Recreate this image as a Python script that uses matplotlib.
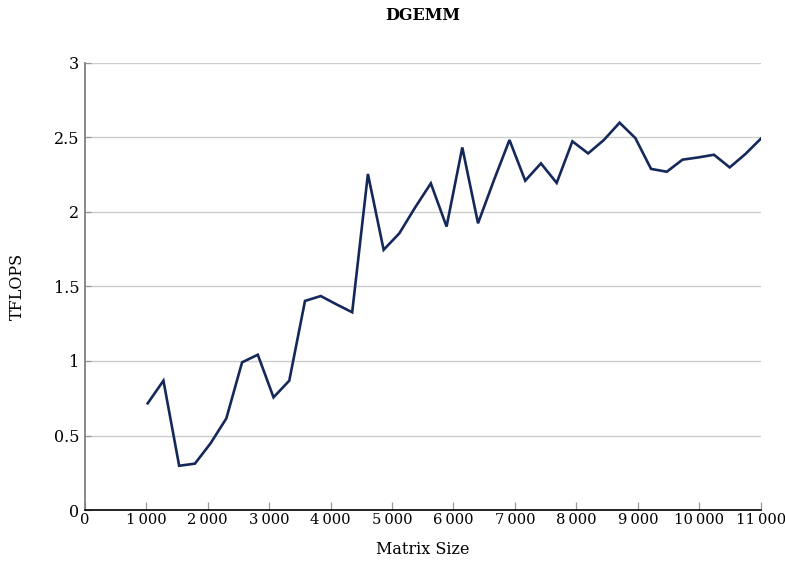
import matplotlib.pyplot as plt
from matplotlib.ticker import FuncFormatter

plt.rcParams["font.family"] = ["DejaVu Serif"]

# matrix sizes (multiples of 256) and measured throughput
sizes = list(range(1024, 11008 + 1, 256))
tflops = [
    0.716, 0.868, 0.297, 0.311, 0.448, 0.615, 0.991, 1.042, 0.756, 0.868,
    1.403, 1.436, 1.380, 1.327, 2.255, 1.746, 1.857, 2.030, 2.192, 1.902,
    2.433, 1.924, 2.210, 2.483, 2.210, 2.326, 2.195, 2.474, 2.393, 2.483,
    2.599, 2.496, 2.289, 2.270, 2.351, 2.366, 2.384, 2.299, 2.389, 2.494,
]
x_ticks = list(range(0, 11001, 1000))
y_ticks = [0, 0.5, 1, 1.5, 2, 2.5, 3]

fig = plt.figure(figsize=(7.85, 5.62), dpi=100)
ax = fig.add_axes([0.108, 0.0925, 0.861, 0.7955])

ax.plot(sizes, tflops, color="#14295a", linewidth=1.9, solid_joinstyle="miter")

ax.set_xlim(0, 11000)
ax.set_ylim(0, 3)
ax.set_xticks(x_ticks)
ax.set_yticks(y_ticks)


def thousands(v, pos):
    s = f"{int(v):,}"
    return s.replace(",", "\u2009")


def plain(v, pos):
    return f"{v:g}"


ax.xaxis.set_major_formatter(FuncFormatter(thousands))
ax.yaxis.set_major_formatter(FuncFormatter(plain))

ax.grid(axis="y", color="#cccccc", linewidth=1.0)
ax.set_axisbelow(True)

for side in ("top", "right"):
    ax.spines[side].set_visible(False)
ax.spines["left"].set_color("#808080")
ax.spines["left"].set_linewidth(1.3)
ax.spines["bottom"].set_color("black")
ax.spines["bottom"].set_linewidth(1.2)

ax.tick_params(axis="x", direction="in", length=6, width=0.9, color="#999999",
               labelsize=10.6, pad=2)
ax.tick_params(axis="y", direction="in", length=4, width=0.9, color="#999999",
               labelsize=11.5, pad=4)

ax.set_xlabel("Matrix Size", fontsize=11.5, labelpad=10)
ax.set_ylabel("TFLOPS", fontsize=11.5, labelpad=20)
ax.set_title("DGEMM", fontsize=11.5, fontweight="bold", pad=31)

fig.savefig("out.png", dpi=100)
